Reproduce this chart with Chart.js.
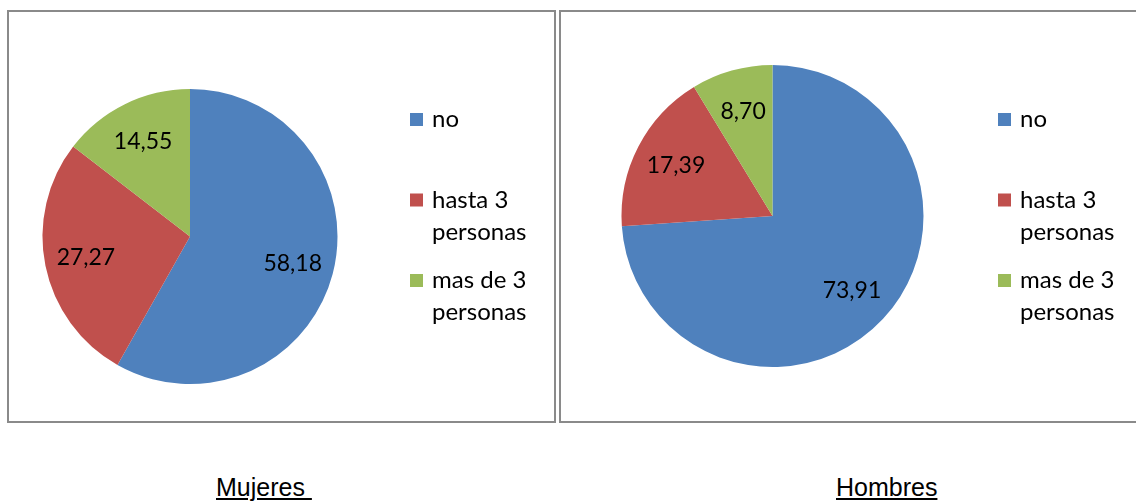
<!DOCTYPE html>
<html>
<head>
<meta charset="utf-8">
<title>Mujeres / Hombres</title>
<script src="https://cdn.jsdelivr.net/npm/chart.js@4/dist/chart.umd.min.js"></script>
<style>
  html, body { margin: 0; padding: 0; background: #fff; }
  body { width: 1136px; height: 501px; position: relative; overflow: hidden; }
  .panel { position: absolute; top: 10px; height: 413px; box-sizing: border-box; border: 2px solid #8a8a8a; background: #fff; }
  #panelMujeres { left: 7px; width: 549px; }
  #panelHombres { left: 559px; width: 600px; }
  .panel canvas { display: block; }
  .caption { position: absolute; top: 475px; font-family: "Liberation Sans", Arial, sans-serif; font-size: 25px; line-height: 25px; color: #000; text-decoration: underline; white-space: pre; }
</style>
</head>
<body>
<div class="panel" id="panelMujeres"><canvas id="chartMujeres" width="545" height="409"></canvas></div>
<div class="panel" id="panelHombres"><canvas id="chartHombres" width="596" height="409"></canvas></div>
<div class="caption" style="left:216px">Mujeres&nbsp;</div>
<div class="caption" style="left:836px">Hombres</div>

<script>
const categories = ['no', 'hasta 3 personas', 'mas de 3 personas'];
const mujeresValues = [58.18, 27.27, 14.55];
const hombresValues = [73.91, 17.39, 8.70];
const sliceColors = ['#4F81BD', '#C0504D', '#9BBB59'];

const FONT = 'Lato, "Open Sans", sans-serif';

// value labels inside each slice, written with a decimal comma
const sliceLabels = {
  id: 'sliceLabels',
  afterDatasetsDraw(chart) {
    const ctx = chart.ctx;
    const values = chart.data.datasets[0].data;
    ctx.save();
    ctx.font = '23px ' + FONT;
    ctx.fillStyle = '#000';
    ctx.textAlign = 'center';
    ctx.textBaseline = 'middle';
    chart.getDatasetMeta(0).data.forEach((arc, i) => {
      const p = arc.getProps(['x', 'y', 'startAngle', 'endAngle', 'outerRadius'], true);
      const mid = (p.startAngle + p.endAngle) / 2;
      const r = p.outerRadius * 0.72;
      const text = values[i].toFixed(2).replace('.', ',');
      ctx.fillText(text, p.x + Math.cos(mid) * r, p.y + Math.sin(mid) * r);
    });
    ctx.restore();
  }
};

// legend on the right side, long labels wrapped onto two lines
const sideLegend = {
  id: 'sideLegend',
  afterDraw(chart, args, opts) {
    const ctx = chart.ctx;
    const colors = chart.data.datasets[0].backgroundColor;
    ctx.save();
    ctx.font = '24px ' + FONT;
    ctx.textBaseline = 'alphabetic';
    ctx.textAlign = 'left';
    chart.data.labels.forEach((label, i) => {
      const base = opts.y + i * opts.step;
      ctx.fillStyle = colors[i];
      ctx.fillRect(opts.x, base - 14, 13, 13);

      // simple word wrap
      const words = label.split(' ');
      const lines = [];
      let line = '';
      words.forEach(w => {
        const test = line ? line + ' ' + w : w;
        if (line && ctx.measureText(test).width > opts.maxWidth) {
          lines.push(line);
          line = w;
        } else {
          line = test;
        }
      });
      lines.push(line);

      ctx.fillStyle = '#000';
      lines.forEach((l, j) => ctx.fillText(l, opts.x + 22, base + j * opts.lineHeight));
    });
    ctx.restore();
  }
};

function makePie(canvasId, values, padding, legendX) {
  return new Chart(document.getElementById(canvasId), {
    type: 'pie',
    data: {
      labels: categories,
      datasets: [{
        data: values,
        backgroundColor: sliceColors,
        borderWidth: 0,
        hoverBorderWidth: 0,
        hoverOffset: 0
      }]
    },
    options: {
      responsive: false,
      animation: false,
      layout: { padding: padding },
      plugins: {
        legend: { display: false },
        tooltip: { enabled: false },
        sideLegend: { x: legendX, y: 115, step: 80.5, lineHeight: 32, maxWidth: 110 }
      }
    },
    plugins: [sliceLabels, sideLegend]
  });
}

makePie('chartMujeres', mujeresValues, { left: 33.5, top: 77, right: 216.5, bottom: 37 }, 401);
makePie('chartHombres', hombresValues, { left: 60.5, top: 53, right: 233.5, bottom: 54 }, 437);
</script>
</body>
</html>
